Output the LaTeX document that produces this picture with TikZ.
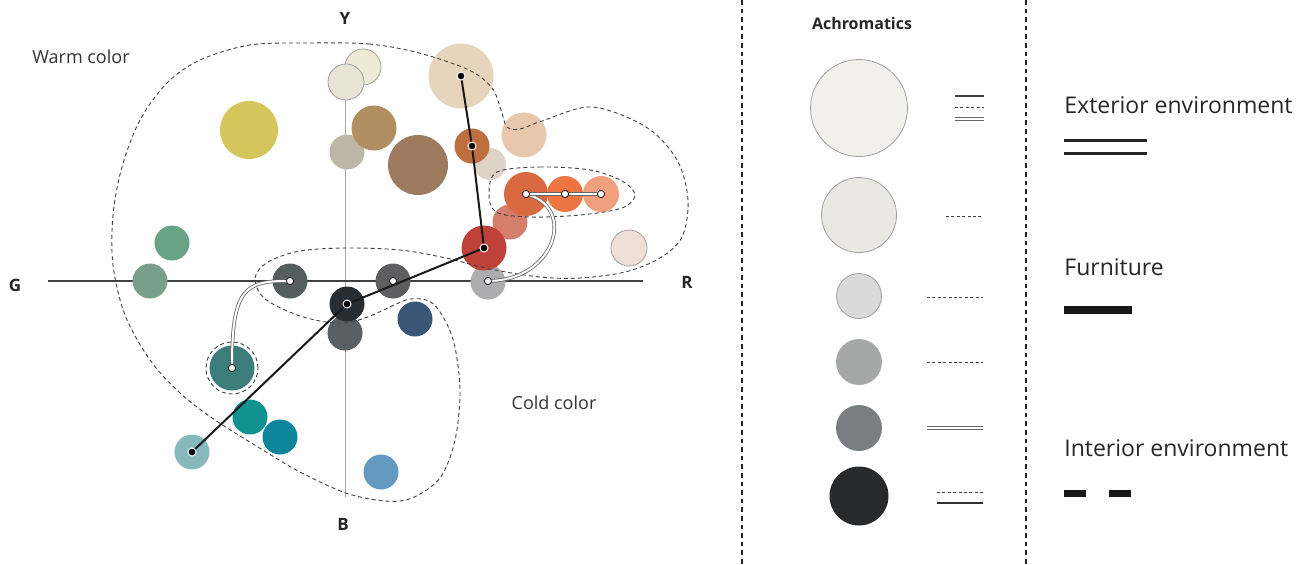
\documentclass[tikz,border=0pt]{standalone}
\usepackage{fontspec}
\setmainfont{Open Sans}
\definecolor{cPaleA}{HTML}{EFEAD5}
\definecolor{cPaleB}{HTML}{E8E3D5}
\definecolor{cBeige}{HTML}{E6D4BC}
\definecolor{cYellow}{HTML}{D6C55B}
\definecolor{cGreyBeige}{HTML}{BEB6A9}
\definecolor{cTan}{HTML}{B18F62}
\definecolor{cBrown}{HTML}{9C7B5F}
\definecolor{cPaleBeige}{HTML}{DDD3C7}
\definecolor{cRust}{HTML}{BF6F3F}
\definecolor{cPeach}{HTML}{E8C8AC}
\definecolor{cSalmon}{HTML}{D47F6B}
\definecolor{cOrangeA}{HTML}{D96A40}
\definecolor{cOrangeB}{HTML}{EC7541}
\definecolor{cOrangeC}{HTML}{F0A07F}
\definecolor{cPink}{HTML}{EEE0D7}
\definecolor{cLightGrey}{HTML}{ADACAE}
\definecolor{cRed}{HTML}{C0403A}
\definecolor{cGreen}{HTML}{68A386}
\definecolor{cGreenGrey}{HTML}{78A08B}
\definecolor{cSlateA}{HTML}{545E5D}
\definecolor{cSlateB}{HTML}{5E5D60}
\definecolor{cSlateC}{HTML}{596064}
\definecolor{cBlack}{HTML}{262D33}
\definecolor{cNavy}{HTML}{3A5677}
\definecolor{cTeal}{HTML}{3B7D79}
\definecolor{cTealB}{HTML}{109290}
\definecolor{cTealBlue}{HTML}{0D859B}
\definecolor{cLightTeal}{HTML}{87B9BC}
\definecolor{cLightBlue}{HTML}{6499C1}
\definecolor{cAchA}{HTML}{F2F0ED}
\definecolor{cAchB}{HTML}{EAE8E5}
\definecolor{cAchC}{HTML}{DADADA}
\definecolor{cAchD}{HTML}{A6A7A7}
\definecolor{cAchE}{HTML}{7B7E81}
\definecolor{cAchF}{HTML}{27292B}
\begin{document}
\begin{tikzpicture}[x=0.5pt,y=-0.5pt]
	\tikzstyle{Blob} = [circle, inner sep=0pt, draw=none]
	\tikzstyle{Pale} = [draw=gray!75, line width=0.4pt]
	\tikzstyle{Dot} = [circle, fill=black, draw=white, line width=0.5pt, minimum size=4pt, inner sep=0pt]
	\tikzstyle{HollowDot} = [circle, fill=white, draw=black, line width=0.4pt, minimum size=3.6pt, inner sep=0pt]
	\tikzstyle{Region} = [draw=black!75, line width=0.45pt, dash pattern=on 2pt off 1.5pt]
	\tikzstyle{Furniture} = [draw=black!90, line width=1pt]
	\tikzstyle{Exterior} = [draw=black!60, line width=0.4pt, double=white, double distance=1pt]
	\tikzstyle{Sample} = [draw=black!75, line width=0.45pt, dash pattern=on 1.5pt off 1.2pt]
	\tikzstyle{Label} = [inner sep=0pt, text=black!80, font=\fontsize{9}{11}\selectfont]
	\tikzstyle{Legend} = [inner sep=0pt, anchor=west, text=black!85, font=\fontsize{11.5}{14}\selectfont]
	\tikzstyle{AxisLabel} = [inner sep=0pt, text=black!85, font=\bfseries\fontsize{8.5}{10}\selectfont]
	\useasboundingbox (0,0) rectangle (1304,564);
	% axes
	\coordinate (gEnd) at (48,281);
	\coordinate (rEnd) at (643,281);
	\coordinate (yEnd) at (345,85);
	\coordinate (bEnd) at (345,497);
	\draw [gray!70, line width=0.5pt] (yEnd) -- (bEnd);
	\draw [black!75, line width=1.2pt] (gEnd) -- (rEnd);
	\node (Y) at (345,18) [AxisLabel] {Y};
	\node (G) at (15,285) [AxisLabel] {G};
	\node (R) at (687,282) [AxisLabel] {R};
	\node (B) at (343,524) [AxisLabel] {B};
	% colour samples
	\node (paleA) at (363,67) [Blob, Pale, fill=cPaleA, minimum size=18pt] {};
	\node (paleB) at (346,82) [Blob, Pale, fill=cPaleB, minimum size=18pt] {};
	\node (beige) at (461,76) [Blob, fill=cBeige, minimum size=32.5pt] {};
	\node (yellow) at (249,130) [Blob, fill=cYellow, minimum size=29pt] {};
	\node (greyBeige) at (347,152) [Blob, fill=cGreyBeige, minimum size=17.5pt] {};
	\node (tan) at (374,128) [Blob, fill=cTan, minimum size=22.5pt] {};
	\node (brown) at (418,165) [Blob, fill=cBrown, minimum size=30pt] {};
	\node (paleBeige) at (490,164) [Blob, fill=cPaleBeige, minimum size=16pt] {};
	\node (rust) at (472,146) [Blob, fill=cRust, minimum size=17.5pt] {};
	\node (peach) at (524,135) [Blob, fill=cPeach, minimum size=22.5pt] {};
	\node (salmon) at (510,222) [Blob, fill=cSalmon, minimum size=17.5pt] {};
	\node (orangeA) at (526,194) [Blob, fill=cOrangeA, minimum size=22pt] {};
	\node (orangeB) at (565,194) [Blob, fill=cOrangeB, minimum size=18pt] {};
	\node (orangeC) at (601,194) [Blob, fill=cOrangeC, minimum size=18pt] {};
	\node (pink) at (629,248) [Blob, Pale, fill=cPink, minimum size=18pt] {};
	\node (lightGrey) at (488,282) [Blob, fill=cLightGrey, minimum size=17.5pt] {};
	\node (red) at (484,248) [Blob, fill=cRed, minimum size=22.5pt] {};
	\node (green) at (172,243) [Blob, fill=cGreen, minimum size=17.5pt] {};
	\node (greenGrey) at (150,281) [Blob, fill=cGreenGrey, minimum size=17.5pt] {};
	\node (slateA) at (290,281) [Blob, fill=cSlateA, minimum size=17.5pt] {};
	\node (slateB) at (393,281) [Blob, fill=cSlateB, minimum size=17.5pt] {};
	\node (slateC) at (345,333) [Blob, fill=cSlateC, minimum size=17.5pt] {};
	\node (black) at (347,304) [Blob, fill=cBlack, minimum size=17.5pt] {};
	\node (navy) at (415,319) [Blob, fill=cNavy, minimum size=17.5pt] {};
	\node (teal) at (232,368) [Blob, fill=cTeal, minimum size=22.5pt] {};
	\node (tealB) at (250,417) [Blob, fill=cTealB, minimum size=17.5pt] {};
	\node (tealBlue) at (280,437) [Blob, fill=cTealBlue, minimum size=17.5pt] {};
	\node (lightTeal) at (192,452) [Blob, fill=cLightTeal, minimum size=17.5pt] {};
	\node (lightBlue) at (381,472) [Blob, fill=cLightBlue, minimum size=17.5pt] {};
	% groups
	\draw [Region] plot [smooth cycle, tension=0.55] coordinates {(308,43) (369,44) (419,53) (469,70) (492,88) (501,110) (507,127) (520,129) (542,121) (592,107) (646,127) (677,160) (688,200) (682,237) (660,258) (625,272) (580,278) (540,277) (490,269) (446,258) (400,250) (346,248) (300,251) (268,262) (255,278) (264,298) (292,313) (320,321) (346,323) (370,316) (392,306) (410,299) (429,301) (442,315) (454,343) (460,390) (455,440) (440,478) (412,498) (385,501) (346,493) (300,472) (258,447) (215,420) (180,393) (150,360) (125,315) (113,265) (113,215) (122,167) (140,120) (167,83) (200,60) (250,45)};
	\draw [Region] plot [smooth cycle, tension=0.55] coordinates {(497,172) (540,167) (590,170) (622,181) (635,195) (622,208) (580,215) (530,217) (496,212) (489,193)};
	\node (tealRing) at (teal) [circle, Region, minimum size=26pt, inner sep=0pt] {};
	\node (warm) at (81,57) [Label] {Warm color};
	\node (cold) at (554,403) [Label] {Cold color};
	% markers
	\node (dBeige) at (beige) [Dot] {};
	\node (dRust) at (rust) [Dot] {};
	\node (dRed) at (red) [Dot] {};
	\node (dBlack) at (black) [Dot] {};
	\node (dLightTeal) at (lightTeal) [Dot] {};
	\node (hOrangeA) at (orangeA) [HollowDot] {};
	\node (hOrangeB) at (orangeB) [HollowDot] {};
	\node (hOrangeC) at (orangeC) [HollowDot] {};
	\node (hLightGrey) at (488,281) [HollowDot] {};
	\node (hSlateB) at (slateB) [HollowDot] {};
	\node (hSlateA) at (slateA) [HollowDot] {};
	\node (hTeal) at (teal) [HollowDot] {};
	% furniture
	\draw [Furniture] (dBeige) to (dRust);
	\draw [Furniture] (dRust) to (dRed);
	\draw [Furniture] (dRed) to (dBlack);
	\draw [Furniture] (dBlack) to (dLightTeal);
	% exterior environment
	\draw [Exterior] (hTeal) .. controls (232,290) and (245,281) .. (hSlateA);
	\draw [Exterior] (hLightGrey) .. controls (555,278) and (575,210) .. (hOrangeA);
	\draw [Exterior] (hOrangeA) to (hOrangeB);
	\draw [Exterior] (hOrangeB) to (hOrangeC);
	% achromatics
	\coordinate (sepA) at (742,0);
	\coordinate (sepAb) at (742,564);
	\coordinate (sepB) at (1026,0);
	\coordinate (sepBb) at (1026,564);
	\draw [black!85, line width=1pt, dash pattern=on 2.3pt off 2pt] (sepA) -- (sepAb);
	\draw [black!85, line width=1pt, dash pattern=on 2.3pt off 2pt] (sepB) -- (sepBb);
	\node (ach) at (862,23) [AxisLabel, font=\bfseries\fontsize{8}{10}\selectfont] {Achromatics};
	\node (achA) at (859,108) [Blob, Pale, fill=cAchA, minimum size=48.5pt] {};
	\node (achB) at (859,215) [Blob, Pale, fill=cAchB, minimum size=37.5pt] {};
	\node (achC) at (859,296) [Blob, Pale, fill=cAchC, minimum size=22.5pt] {};
	\node (achD) at (859,362) [Blob, fill=cAchD, minimum size=23pt] {};
	\node (achE) at (859,428) [Blob, fill=cAchE, minimum size=23pt] {};
	\node (achF) at (859,496) [Blob, fill=cAchF, minimum size=29.5pt] {};
	\draw [black!75, line width=0.9pt] (955,96) -- (984,96);
	\draw [Sample] (955,107) -- (984,107);
	\draw [Exterior] (955,119) -- (984,119);
	\draw [Sample] (946,216) -- (983,216);
	\draw [Sample] (927,297) -- (983,297);
	\draw [Sample] (927,362) -- (983,362);
	\draw [Exterior] (927,428) -- (983,428);
	\draw [Sample] (937,492) -- (983,492);
	\draw [black!80, line width=0.7pt] (937,503) -- (983,503);
	% legend
	\node (ext) at (1064,105) [Legend] {Exterior environment};
	\draw [black!85, line width=1.5pt] (1064,140) -- (1147,140);
	\draw [black!85, line width=1.5pt] (1064,153) -- (1147,153);
	\node (fur) at (1064,267) [Legend] {Furniture};
	\draw [black!90, line width=4pt] (1064,310) -- (1132,310);
	\node (int) at (1064,448) [Legend] {Interior environment};
	\draw [black!90, line width=3.5pt, dash pattern=on 11pt off 11.5pt] (1064,493) -- (1132,493);
\end{tikzpicture}
\end{document}
